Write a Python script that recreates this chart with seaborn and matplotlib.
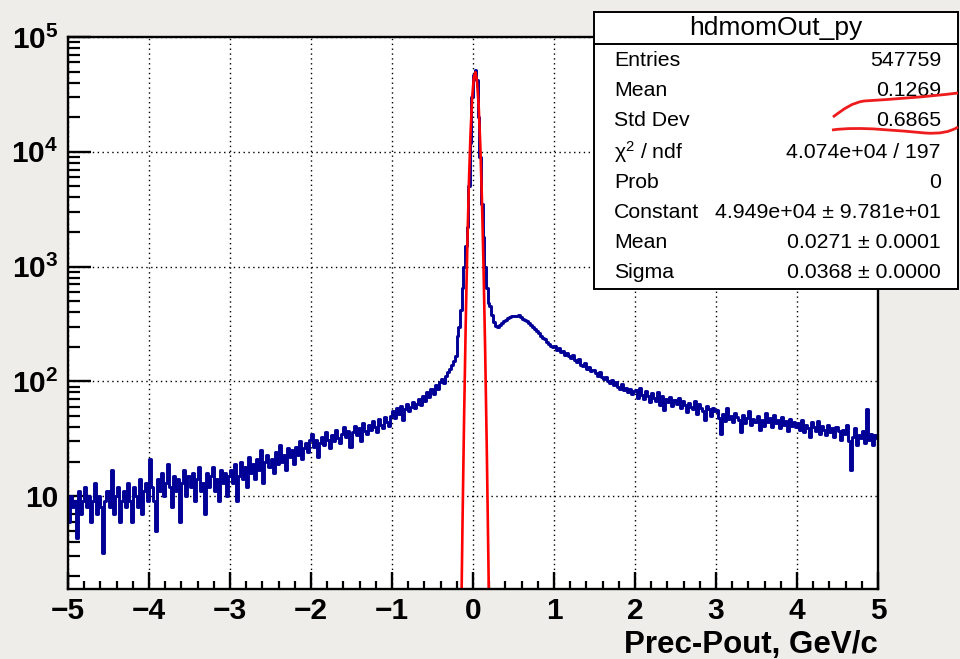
import numpy as np
import pandas as pd
import matplotlib
matplotlib.use("Agg")
import matplotlib.pyplot as plt
import seaborn as sns
from matplotlib.patches import Rectangle, PathPatch
from matplotlib.path import Path
from matplotlib.ticker import FixedLocator, LogLocator, MultipleLocator, NullFormatter

# ---------------- data ----------------
# left tail: bins of 0.025 from -5.0 to -0.2
left_counts = [
    6, 10, 8, 9, 4.3, 11, 7, 9, 12, 8, 10, 6, 9, 13, 7, 10, 8, 3.2, 9, 11,
    8, 17, 7, 10, 12, 6, 9, 11, 8, 13, 9, 6, 12, 10, 8, 14, 7, 11, 13, 9,
    21, 12, 9, 5, 14, 11, 16, 10, 13, 19, 12, 8, 15, 11, 14, 6, 13, 17, 10, 15,
    12, 16, 9, 14, 18, 11, 13, 7, 16, 12, 15, 18, 11, 14, 9, 17, 13, 16, 10, 15,
    17, 13, 19, 9, 15, 20, 14, 18, 12, 22, 16, 19, 14, 21, 17, 25, 13, 20, 23, 18,
    21, 16, 24, 19, 28, 20, 23, 17, 26, 22, 25, 19, 27, 23, 30, 21, 26, 29, 24, 31,
    35, 27, 31, 22, 29, 33, 28, 36, 31, 26, 34, 30, 38, 32, 29, 35, 40, 33, 37, 27,
    36, 41, 34, 39, 30, 43, 37, 35, 42, 38, 45, 40, 36, 47, 42, 39, 49, 44, 41, 50,
    55, 48, 58, 52, 61, 46, 57, 63, 55, 60, 66, 58, 64, 70, 62, 75, 68, 80, 73, 86,
    78, 92, 85, 98, 105, 96, 112, 120, 128, 140, 150, 165]
# peak region: bins of 0.02 from -0.2 to 0.2
peak_counts = [250, 300, 420, 650, 1000, 1500, 2200, 5000, 12000, 30000,
               47000, 52000, 42000, 20000, 9000, 3500, 1800, 1000, 650, 480]
# right tail: bins of 0.025 from 0.2 to 5.0
right_counts = [
    450, 380, 330, 305, 300, 310, 320, 335, 345, 355, 365, 370, 372, 368, 375, 360,
    352, 345, 335, 322, 310, 298, 285, 272, 262, 250, 240, 232, 222, 212, 205, 198,
    205, 188, 196, 180, 185, 170, 176, 165, 160, 168, 152, 148, 155, 140, 136, 143, 128, 132, 122, 126,
    118, 112, 120, 108, 104, 110, 100, 97, 103, 93, 98, 90, 86, 94, 84, 88, 80, 85, 78, 82,
    84, 72, 88, 76, 70, 82, 74, 66, 79, 72, 68, 80, 62, 75, 56, 70, 66, 73, 61, 69,
    64, 72, 58, 67, 62, 54, 65, 60, 57, 68, 52, 63, 59, 55, 46, 61, 57, 50, 59, 55,
    56, 48, 35, 52, 45, 58, 47, 50, 44, 53, 49, 46, 36, 51, 43, 48, 55, 42, 47, 44,
    50, 38, 46, 41, 53, 44, 48, 40, 51, 43, 46, 39, 49, 42, 45, 37, 47, 41, 44, 40,
    43, 38, 46, 36, 42, 39, 33, 44, 40, 37, 45, 35, 41, 38, 34, 42, 36, 39, 33, 40,
    37, 31, 38, 35, 42, 30, 17, 33, 39, 28, 34, 32, 37, 29, 57, 31, 35, 28, 34, 32]

# gaussian fit parameters (from stats box)
fit_constant = 4.949e4
fit_mean = 0.0271
fit_sigma = 0.0368

hist_title = "hdmomOut_py"
stat_labels = ["Entries", "Mean", "Std Dev", "χ$^{2}$ / ndf", "Prob", "Constant", "Mean", "Sigma"]
stat_values = ["547759", "0.1269", "0.6865", "4.074e+04 / 197", "0",
               "4.949e+04 ± 9.781e+01", "0.0271 ± 0.0001", "0.0368 ± 0.0000"]

x_ticks = [-5, -4, -3, -2, -1, 0, 1, 2, 3, 4, 5]
y_ticks = [10, 100, 1000, 10000, 100000]
y_tick_labels = ["10", r"$\mathbf{10^{2}}$", r"$\mathbf{10^{3}}$", r"$\mathbf{10^{4}}$", r"$\mathbf{10^{5}}$"]
x_label = "Prec-Pout, GeV/c"

# ---------------- bins ----------------
left_edges = np.round(np.linspace(-5.0, -0.2, len(left_counts) + 1), 4)
peak_edges = np.round(np.linspace(-0.2, 0.2, len(peak_counts) + 1), 4)
right_edges = np.round(np.linspace(0.2, 5.0, len(right_counts) + 1), 4)
edges = np.concatenate([left_edges, peak_edges[1:], right_edges[1:]])
counts = np.array(left_counts + peak_counts + right_counts, dtype=float)
centers = 0.5 * (edges[:-1] + edges[1:])
df = pd.DataFrame({"x": centers, "w": counts})

fit_x = np.arange(-0.33, 0.39, 0.02)
fit_y = fit_constant * np.exp(-0.5 * ((fit_x - fit_mean) / fit_sigma) ** 2)
fit_df = pd.DataFrame({"x": fit_x, "y": fit_y})

# ---------------- figure ----------------
sns.set_theme(style="white")
plt.rcParams["font.family"] = ["Liberation Sans", "DejaVu Sans"]
plt.rcParams["mathtext.fontset"] = "custom"
plt.rcParams["mathtext.rm"] = "Liberation Sans"
plt.rcParams["mathtext.bf"] = "Liberation Sans:bold"
plt.rcParams["mathtext.it"] = "Liberation Sans:italic"
plt.rcParams["text.color"] = "black"
plt.rcParams["xtick.color"] = "black"
plt.rcParams["ytick.color"] = "black"
plt.rcParams["axes.labelcolor"] = "black"

W, H = 960, 659
fig = plt.figure(figsize=(W / 100, H / 100), dpi=100)
fig.patch.set_facecolor("#efedea")

def fx(x):
    return x / W

def fy(y):
    return 1 - y / H

ax = fig.add_axes([fx(68), fy(589), fx(878) - fx(68), fy(37) - fy(589)])
ax.set_facecolor("white")

sns.histplot(data=df, x="x", weights="w", bins=[float(e) for e in edges], element="step",
             fill=False, color="#000096", linewidth=2.1, ax=ax)
sns.lineplot(data=fit_df, x="x", y="y", color="#ff0000", linewidth=1.9, ax=ax)

ax.set_yscale("log")
ax.set_xlim(-5, 5)
ax.set_ylim(1.55, 1e5)
ax.set_xlabel("")
ax.set_ylabel("")

ax.xaxis.set_major_locator(FixedLocator(x_ticks))
ax.xaxis.set_minor_locator(MultipleLocator(0.2))
ax.set_xticklabels([("−" + str(abs(t))) if t < 0 else str(t) for t in x_ticks])
ax.yaxis.set_major_locator(FixedLocator(y_ticks))
ax.yaxis.set_minor_locator(LogLocator(base=10, subs=np.arange(2, 10)))
ax.yaxis.set_minor_formatter(NullFormatter())
ax.set_yticklabels(y_tick_labels)

ax.tick_params(axis="x", which="major", direction="in", length=12.5, width=1.7,
               labelsize=21.5, pad=6, bottom=True, top=False, colors="black")
ax.tick_params(axis="x", which="minor", direction="in", length=6, width=1.6,
               bottom=True, top=False)
ax.tick_params(axis="y", which="major", direction="in", length=16.5, width=1.7,
               labelsize=21.5, pad=7, left=True, right=False, colors="black")
ax.tick_params(axis="y", which="minor", direction="in", length=8.5, width=1.6,
               left=True, right=False)
for lab in ax.get_xticklabels() + ax.get_yticklabels():
    lab.set_fontweight("bold")

ax.grid(True, which="major", color="black", linestyle=(0, (1, 2.5)), linewidth=1.0)
for s in ax.spines.values():
    s.set_color("black")
    s.set_linewidth(1.7)

fig.text(fx(878), fy(645), x_label, ha="right", va="center", fontsize=22.5, fontweight="bold")

# ---------------- stats box ----------------
bx0, by0, bx1, by1 = 594, 12, 958, 289
fig.patches.append(Rectangle((fx(bx0), fy(by1)), fx(bx1) - fx(bx0), fy(by0) - fy(by1),
                             transform=fig.transFigure, facecolor="white", edgecolor="black",
                             linewidth=1.4, zorder=5))
fig.lines.append(plt.Line2D([fx(bx0), fx(bx1)], [fy(44), fy(44)], transform=fig.transFigure,
                            color="black", linewidth=1.4, zorder=6))
fig.text(fx((bx0 + bx1) / 2), fy(28), hist_title, ha="center", va="center", fontsize=19, zorder=7)
row_y = [60, 90, 121, 152, 182, 212, 243, 273]
for lab, val, ry in zip(stat_labels, stat_values, row_y):
    fig.text(fx(614), fy(ry), lab, ha="left", va="center", fontsize=15.3, zorder=7)
    fig.text(fx(941), fy(ry), val, ha="right", va="center", fontsize=15.3, zorder=7)

# ---------------- hand-drawn red marks ----------------
def stroke(pts):
    verts = [(fx(x), fy(y)) for x, y in pts]
    codes = [Path.MOVETO] + [Path.CURVE4] * (len(verts) - 1)
    fig.patches.append(PathPatch(Path(verts, codes), transform=fig.transFigure,
                                 facecolor="none", edgecolor="#ee1c1c", linewidth=2.0, zorder=8))

stroke([(833, 117), (845, 108), (852, 103), (864, 101),
        (895, 99), (925, 97), (958, 93)])
stroke([(832, 130), (860, 126), (900, 131), (925, 133),
        (940, 134), (950, 132), (958, 127)])

fig.savefig("out.png", dpi=100, facecolor=fig.get_facecolor())
